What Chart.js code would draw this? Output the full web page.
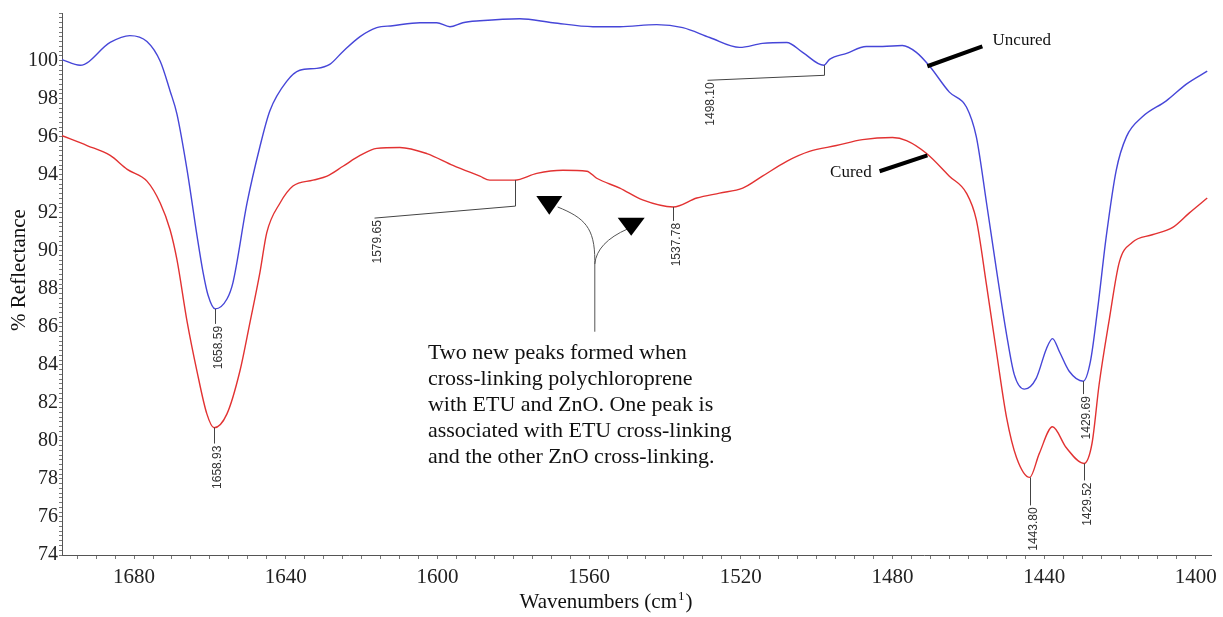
<!DOCTYPE html>
<html>
<head>
<meta charset="utf-8">
<title>FTIR - Uncured vs Cured</title>
<script src="https://cdn.jsdelivr.net/npm/chart.js@4.4.1/dist/chart.umd.min.js"></script>
<style>
  html, body { margin: 0; padding: 0; background: #fff; }
</style>
</head>
<body>
<canvas id="grafico" width="1223" height="617"></canvas>
<script>
// wavenumber (cm-1) and % reflectance
const uncuredWn = [1699, 1694.2, 1686.3, 1681.1, 1676.6, 1673.1, 1670.5, 1668.7, 1666.0, 1663.4,
  1661.8, 1660.5, 1658.6, 1655.5, 1653.9, 1650.2, 1646.8, 1644.2, 1639.7, 1636.3,
  1631.8, 1628.4, 1624.9, 1620.4, 1616.0, 1611.8, 1604.6, 1600.2, 1596.7, 1593.3,
  1588.8, 1578.3, 1569.6, 1559.0, 1551.9, 1542.2, 1535.3, 1528.2, 1520.3, 1514.3,
  1507.9, 1503.7, 1498.1, 1496.6, 1492.1, 1486.9, 1482.6, 1477.4, 1473.7, 1470.2,
  1465.0, 1460.5, 1457.9, 1455.2, 1452.6, 1449.9, 1447.9, 1445.2, 1442.1, 1439.4,
  1437.8, 1436.0, 1433.4, 1429.7, 1427.8, 1425.9, 1423.6, 1421.0, 1418.3, 1414.1,
  1407.8, 1402.5, 1397.0];
const uncuredVal = [100.05, 99.75, 100.95, 101.31, 101.0, 99.96, 98.40, 97.20, 94.23, 90.79,
  88.86, 87.67, 86.94, 87.46, 88.34, 92.51, 95.48, 97.35, 98.92, 99.49,
  99.59, 99.80, 100.48, 101.26, 101.73, 101.83, 101.99, 101.99, 101.78, 101.99,
  102.09, 102.20, 101.99, 101.78, 101.78, 101.89, 101.73, 101.21, 100.69, 100.90,
  100.95, 100.43, 99.75, 100.06, 100.38, 100.74, 100.74, 100.79, 100.43, 99.70,
  98.34, 97.56, 96.0, 92.51, 89.02, 85.58, 83.50, 82.72, 83.29, 84.85,
  85.38, 84.70, 83.66, 83.14, 84.18, 86.94, 90.79, 94.23, 96.0, 97.04,
  97.88, 98.76, 99.44];

const curedWn = [1699, 1692.4, 1686.3, 1681.8, 1676.6, 1673.1, 1670.5, 1668.7, 1666.0, 1663.4,
  1660.8, 1658.9, 1655.5, 1652.1, 1649.4, 1646.8, 1645.0, 1641.5, 1638.1, 1632.8,
  1629.1, 1624.9, 1620.4, 1616.0, 1609.9, 1602.8, 1595.9, 1588.8, 1586.2, 1579.7,
  1573.8, 1566.9, 1560.6, 1558.0, 1551.9, 1545.9, 1537.8, 1531.6, 1525.6, 1519.5,
  1514.3, 1507.9, 1501.9, 1494.8, 1487.9, 1480.0, 1476.3, 1471.0, 1465.0, 1460.5,
  1457.9, 1455.2, 1452.6, 1449.9, 1447.3, 1443.8, 1441.3, 1437.8, 1434.2, 1429.5,
  1427.4, 1425.5, 1422.8, 1420.2, 1416.8, 1411.5, 1406.2, 1401.7, 1397.0];
const curedVal = [96.05, 95.53, 95.01, 94.28, 93.66, 92.51, 91.10, 89.54, 86.26, 83.66,
  81.42, 80.69, 81.42, 83.66, 86.26, 88.86, 90.95, 92.51, 93.40, 93.71,
  93.92, 94.44, 95.01, 95.38, 95.43, 95.11, 94.49, 93.92, 93.71, 93.71,
  94.07, 94.23, 94.18, 93.81, 93.29, 92.67, 92.30, 92.77, 93.03, 93.29,
  93.92, 94.70, 95.22, 95.53, 95.84, 95.95, 95.79, 95.11, 93.92, 93.03,
  91.63, 88.19, 84.70, 81.21, 79.13, 78.08, 79.33, 80.74, 79.65, 78.81,
  79.85, 82.98, 86.42, 89.39, 90.43, 90.84, 91.21, 91.99, 92.77];

const xTickLabels = [1680, 1640, 1600, 1560, 1520, 1480, 1440, 1400];
const yTickLabels = [74, 76, 78, 80, 82, 84, 86, 88, 90, 92, 94, 96, 98, 100];

// peak labels: text, curve, wavenumber, leader drop (px), optional elbow (px)
const peakLabels = [
  { text: '1658.59', curve: 'uncured', wn: 1658.59, drop: 15 },
  { text: '1658.93', curve: 'cured', wn: 1658.93, drop: 16 },
  { text: '1579.65', curve: 'cured', wn: 1579.65, drop: 26, elbow: [-141, 12] },
  { text: '1537.78', curve: 'cured', wn: 1537.78, drop: 14 },
  { text: '1498.10', curve: 'uncured', wn: 1498.10, drop: 10, elbow: [-117, 5] },
  { text: '1443.80', curve: 'cured', wn: 1443.80, drop: 28 },
  { text: '1429.69', curve: 'uncured', wn: 1429.69, drop: 13 },
  { text: '1429.52', curve: 'cured', wn: 1429.52, drop: 17 }
];

const noteLines = ['Two new peaks formed when', 'cross-linking polychloroprene',
  'with ETU and ZnO. One peak is', 'associated with ETU cross-linking',
  'and the other ZnO cross-linking.'];

const serif = "'Liberation Serif', 'Times New Roman', serif";
const sans = "'Liberation Sans', Arial, sans-serif";

function valueAt(wns, vals, wn) {
  for (let i = 0; i < wns.length - 1; i++) {
    if (wn <= wns[i] && wn >= wns[i + 1]) {
      const t = (wns[i] - wn) / (wns[i] - wns[i + 1]);
      return vals[i] + t * (vals[i + 1] - vals[i]);
    }
  }
  return vals[vals.length - 1];
}

const annotations = {
  id: 'annotations',
  afterDraw(chart) {
    const ctx = chart.ctx;
    const sx = chart.scales.x, sy = chart.scales.y;
    const px = w => sx.getPixelForValue(w);
    const py = v => sy.getPixelForValue(v);
    const area = chart.chartArea;

    // peak labels
    ctx.save();
    ctx.strokeStyle = '#444';
    ctx.fillStyle = '#333';
    ctx.lineWidth = 1;
    ctx.font = '12px ' + sans;
    peakLabels.forEach(p => {
      const v = p.curve === 'uncured' ? valueAt(uncuredWn, uncuredVal, p.wn) : valueAt(curedWn, curedVal, p.wn);
      const x0 = Math.round(px(p.wn)) + 0.5, y0 = py(v);
      let xe = x0, ye = y0 + p.drop;
      ctx.beginPath();
      ctx.moveTo(x0, y0);
      ctx.lineTo(xe, ye);
      if (p.elbow) {
        xe += p.elbow[0];
        ye += p.elbow[1];
        ctx.lineTo(xe, ye);
      }
      ctx.stroke();
      ctx.save();
      ctx.translate(xe + 3, ye + 2);
      ctx.rotate(-Math.PI / 2);
      ctx.textAlign = 'right';
      ctx.textBaseline = 'middle';
      ctx.fillText(p.text, 0, 0);
      ctx.restore();
    });
    ctx.restore();

    // arrows towards the two new peaks
    ctx.save();
    ctx.strokeStyle = '#555';
    ctx.lineWidth = 1;
    ctx.beginPath();
    ctx.moveTo(px(1558.5), py(85.74));
    ctx.lineTo(px(1558.5), py(89.49));
    ctx.bezierCurveTo(px(1558.5), py(91.21), px(1561.2), py(91.73), px(1568.3), py(92.30));
    ctx.moveTo(px(1558.5), py(89.3));
    ctx.quadraticCurveTo(px(1558.0), py(90.43), px(1549.8), py(91.15));
    ctx.stroke();
    ctx.fillStyle = '#000';
    [[1570.5, 92.875, 91.89, 13], [1548.9, 91.73, 90.79, 13.5]].forEach(t => {
      ctx.beginPath();
      ctx.moveTo(px(t[0]) - t[3], py(t[1]));
      ctx.lineTo(px(t[0]) + t[3], py(t[1]));
      ctx.lineTo(px(t[0]), py(t[2]));
      ctx.closePath();
      ctx.fill();
    });
    ctx.restore();

    // note text
    ctx.save();
    ctx.fillStyle = '#111';
    ctx.font = '22px ' + serif;
    ctx.textAlign = 'left';
    ctx.textBaseline = 'alphabetic';
    noteLines.forEach((l, i) => ctx.fillText(l, px(1602.5), py(84.28) + i * 26));
    ctx.restore();

    // curve names
    ctx.save();
    ctx.strokeStyle = '#000';
    ctx.lineWidth = 4;
    ctx.beginPath();
    ctx.moveTo(px(1470.8), py(99.70));
    ctx.lineTo(px(1456.3), py(100.74));
    ctx.moveTo(px(1470.8), py(95.01));
    ctx.lineTo(px(1483.4), py(94.18));
    ctx.stroke();
    ctx.fillStyle = '#111';
    ctx.font = '17px ' + serif;
    ctx.textBaseline = 'middle';
    ctx.textAlign = 'left';
    ctx.fillText('Uncured', px(1453.6), py(101.05));
    ctx.textAlign = 'right';
    ctx.fillText('Cured', px(1485.5), py(94.1));
    ctx.restore();

    // axis titles
    ctx.save();
    ctx.fillStyle = '#111';
    ctx.font = '21px ' + serif;
    ctx.textAlign = 'center';
    ctx.textBaseline = 'middle';
    ctx.translate(19, area.top + 257);
    ctx.rotate(-Math.PI / 2);
    ctx.fillText('% Reflectance', 0, 0);
    ctx.restore();

    ctx.save();
    ctx.fillStyle = '#111';
    ctx.textBaseline = 'alphabetic';
    ctx.textAlign = 'left';
    const t1 = 'Wavenumbers (cm', t2 = '1', t3 = ')';
    ctx.font = '21px ' + serif;
    const w1 = ctx.measureText(t1).width, w3 = ctx.measureText(t3).width;
    ctx.font = '13px ' + serif;
    const w2 = ctx.measureText(t2).width;
    let xt = 605 - (w1 + w2 + w3) / 2;
    const base = area.bottom + 53;
    ctx.font = '21px ' + serif;
    ctx.fillText(t1, xt, base);
    ctx.font = '13px ' + serif;
    ctx.fillText(t2, xt + w1 + 1, base - 8);
    ctx.font = '21px ' + serif;
    ctx.fillText(t3, xt + w1 + w2 + 2, base);
    ctx.restore();
  }
};

new Chart(document.getElementById('grafico').getContext('2d'), {
  type: 'line',
  data: {
    datasets: [{
      label: 'Uncured',
      data: uncuredWn.map((w, i) => ({ x: w, y: uncuredVal[i] })),
      borderColor: '#4646d8',
      borderWidth: 1.4,
      pointRadius: 0,
      cubicInterpolationMode: 'monotone'
    }, {
      label: 'Cured',
      data: curedWn.map((w, i) => ({ x: w, y: curedVal[i] })),
      borderColor: '#e23232',
      borderWidth: 1.4,
      pointRadius: 0,
      cubicInterpolationMode: 'monotone'
    }]
  },
  options: {
    responsive: false,
    animation: false,
    devicePixelRatio: 1,
    layout: { padding: { top: 8, right: 11, left: 0, bottom: 0 } },
    plugins: {
      legend: { display: false },
      tooltip: { enabled: false },
      title: { display: false }
    },
    scales: {
      x: {
        type: 'linear',
        reverse: true,
        min: 1396,
        max: 1699,
        afterFit: s => { s.height = 62; },
        border: { display: true, color: '#555', width: 1 },
        grid: { display: true, drawOnChartArea: false, drawTicks: true, tickLength: 4, color: '#777' },
        ticks: {
          stepSize: 5,
          autoSkip: false,
          includeBounds: false,
          maxRotation: 0,
          padding: 6,
          color: '#222',
          font: { family: serif, size: 21 },
          callback: v => xTickLabels.includes(v) ? String(v) : ''
        }
      },
      y: {
        type: 'linear',
        min: 74,
        max: 102.5,
        afterFit: s => { s.width = 62; },
        border: { display: true, color: '#555', width: 1 },
        grid: { display: true, drawOnChartArea: false, drawTicks: true, tickLength: 3, color: '#777' },
        ticks: {
          stepSize: 0.25,
          autoSkip: false,
          includeBounds: false,
          padding: 1,
          color: '#222',
          font: { family: serif, size: 20 },
          callback: v => yTickLabels.includes(v) ? String(v) : ''
        }
      }
    }
  },
  plugins: [annotations]
});
</script>
</body>
</html>
